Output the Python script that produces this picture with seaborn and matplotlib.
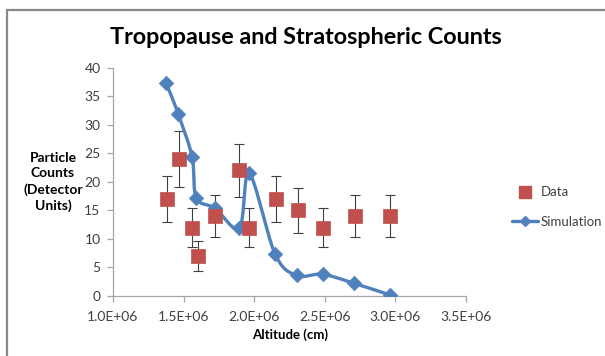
import numpy as np
import pandas as pd
import matplotlib
matplotlib.use("Agg")
import matplotlib.pyplot as plt
import seaborn as sns
from matplotlib.lines import Line2D

# ---- data ----
sim_alt = [1.375e6, 1.462e6, 1.560e6, 1.590e6, 1.722e6, 1.895e6, 1.965e6,
           2.147e6, 2.300e6, 2.485e6, 2.710e6, 2.960e6]
sim_counts = [37.4, 31.9, 24.4, 17.2, 15.4, 11.9, 21.5, 7.4, 3.6, 3.8, 2.2, 0.2]

data_alt = [1.385e6, 1.467e6, 1.560e6, 1.600e6, 1.722e6, 1.890e6, 1.965e6,
            2.155e6, 2.310e6, 2.485e6, 2.715e6, 2.965e6]
data_counts = [17, 24, 12, 7, 14, 22, 12, 17, 15, 12, 14, 14]
data_err = [4.1, 4.9, 3.5, 2.6, 3.7, 4.7, 3.5, 4.1, 3.9, 3.5, 3.7, 3.7]

x_ticks = [1.0e6, 1.5e6, 2.0e6, 2.5e6, 3.0e6, 3.5e6]
x_tick_labels = ["1.0E+06", "1.5E+06", "2.0E+06", "2.5E+06", "3.0E+06", "3.5E+06"]
y_ticks = [0, 5, 10, 15, 20, 25, 30, 35, 40]

title = "Tropopause and Stratospheric Counts"
xlabel = "Altitude (cm)"
ylabel = "Particle\nCounts\n(Detector\nUnits)"

BLUE = "#4F81BD"
RED = "#C0504D"
FONT = ["Lato", "DejaVu Sans"]


def smooth_curve(xs, ys, n=30):
    """Excel-style smoothed line: cubic Bezier with Catmull-Rom control points."""
    P = np.column_stack([xs, ys]).astype(float)
    out = []
    for i in range(len(P) - 1):
        p0 = P[i - 1] if i > 0 else P[i]
        p1 = P[i]
        p2 = P[i + 1]
        p3 = P[i + 2] if i + 2 < len(P) else P[i + 1]
        c1 = p1 + (p2 - p0) / 6.0
        c2 = p2 - (p3 - p1) / 6.0
        t = np.linspace(0, 1, n)[:, None]
        seg = ((1 - t) ** 3) * p1 + 3 * ((1 - t) ** 2) * t * c1 + 3 * (1 - t) * t ** 2 * c2 + t ** 3 * p2
        out.append(seg if i == 0 else seg[1:])
    return np.vstack(out)


sns.set_theme(style="white")
plt.rcParams["font.family"] = FONT

fig = plt.figure(figsize=(6.05, 3.56), dpi=100)
ax = fig.add_axes([113 / 605, 1 - 296 / 356, (466 - 113) / 605, (296 - 67.7) / 356])

sim_df = pd.DataFrame({"alt": sim_alt, "counts": sim_counts})
data_df = pd.DataFrame({"alt": data_alt, "counts": data_counts, "err": data_err})

# smoothed simulation line
curve = smooth_curve(sim_df["alt"].values, sim_df["counts"].values)
curve_df = pd.DataFrame({"alt": curve[:, 0], "counts": curve[:, 1]})
sns.lineplot(data=curve_df, x="alt", y="counts", ax=ax, color=BLUE, lw=2.4,
             sort=False, estimator=None, zorder=3)
sns.scatterplot(data=sim_df, x="alt", y="counts", ax=ax, marker="D", s=55,
                color=BLUE, edgecolor=BLUE, linewidth=0.5, zorder=4)

# data with error bars
ax.errorbar(data_df["alt"], data_df["counts"], yerr=data_df["err"], fmt="none",
            ecolor="#404040", elinewidth=0.8, capsize=3.5, capthick=0.8, zorder=2)
sns.scatterplot(data=data_df, x="alt", y="counts", ax=ax, marker="s", s=90,
                color=RED, edgecolor=RED, linewidth=0.5, zorder=5)

ax.set_xlim(1.0e6, 3.5e6)
ax.set_ylim(0, 40)
ax.set_xticks(x_ticks)
ax.set_xticklabels(x_tick_labels)
ax.set_yticks(y_ticks)
ax.grid(False)
for s in ["top", "right"]:
    ax.spines[s].set_visible(False)
for s in ["left", "bottom"]:
    ax.spines[s].set_color("#A6A6A6")
    ax.spines[s].set_linewidth(0.9)
ax.tick_params(axis="both", which="major", direction="out", length=4, width=0.9,
               color="#A6A6A6", labelsize=10, labelcolor="#404040",
               bottom=True, left=True)
ax.tick_params(axis="x", pad=7)
ax.tick_params(axis="y", pad=5)
ax.set_xlabel("")
ax.set_ylabel("")

# titles / labels
fig.text(306 / 605, 1 - 38 / 356, title, ha="center", va="center",
         fontsize=16.8, fontweight="bold", color="black", family=FONT)
fig.text(290 / 605, 1 - 335 / 356, xlabel, ha="center", va="center",
         fontsize=9.5, fontweight="bold", color="black", family=FONT)
fig.text(53 / 605, 1 - 182 / 356, ylabel, ha="center", va="center",
         fontsize=10, fontweight="bold", color="black", family=FONT, linespacing=1.35)

# legend
handles = [
    Line2D([], [], marker="s", color=RED, linestyle="none", markersize=8),
    Line2D([], [], marker="D", color=BLUE, lw=2.4, markersize=5),
]
fig.legend(handles, ["Data", "Simulation"], loc="center left",
           bbox_to_anchor=(508 / 605, 1 - 207 / 356), frameon=False,
           fontsize=9.5, handlelength=2.0, handletextpad=0.15, labelspacing=1.3,
           labelcolor="#404040", borderaxespad=0, borderpad=0.3)

# outer frame lines (top and left)
fig.add_artist(Line2D([7.3 / 605, 1], [1 - 9.5 / 356, 1 - 9.5 / 356],
                      transform=fig.transFigure, color="#888888", lw=1.6))
fig.add_artist(Line2D([7.3 / 605, 7.3 / 605], [0, 1 - 9.5 / 356],
                      transform=fig.transFigure, color="#888888", lw=1.6))

fig.savefig("out.png", dpi=100, facecolor="white")
